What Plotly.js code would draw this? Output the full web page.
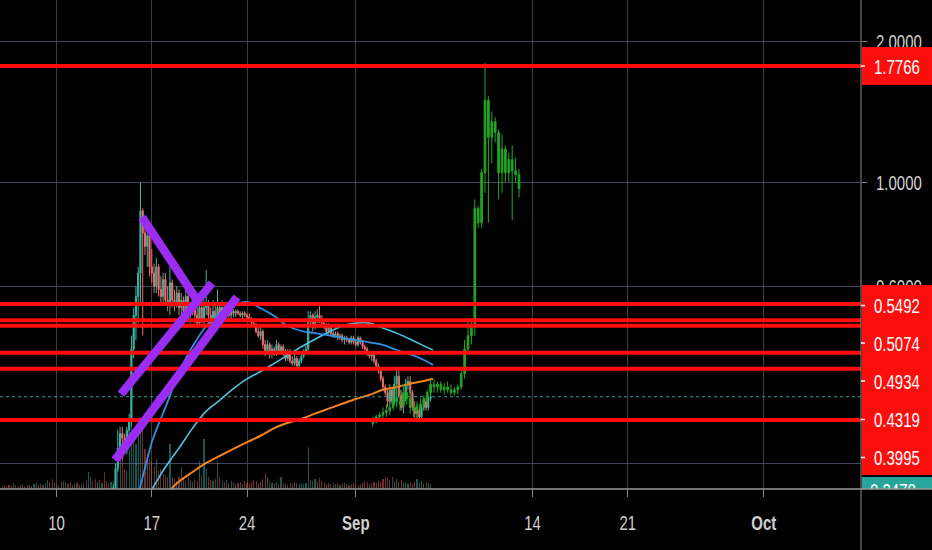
<!DOCTYPE html>
<html><head><meta charset="utf-8">
<script src="https://cdn.plot.ly/plotly-3.0.1.min.js"></script>
<style>html,body{margin:0;padding:0;background:#000;}#chart{width:932px;height:550px;}</style>
</head><body><div id="chart"></div>
<script>
// ---------- DATA ----------
const candleStart = '2020-08-14 00:00';   // 4h candles
const openP  = [.205,.212,.222,.244,.270,.290,.284,.268,.295,.310,.440,.520,.570,.640,.870,.780,.730,.770,.660,.640,.600,.660,.590,.570,.620,.560,.550,.610,.560,.550,.580,.540,.560,.530,.570,.520,.530,.560,.520,.500,.540,.510,.540,.550,.520,.500,.530,.510,.540,.520,.540,.520,.535,.520,.530,.525,.530,.525,.520,.525,.520,.515,.510,.500,.495,.480,.470,.480,.450,.435,.450,.430,.440,.430,.450,.435,.445,.430,.420,.435,.415,.410,.420,.405,.415,.425,.435,.440,.510,.520,.490,.515,.520,.510,.500,.490,.480,.490,.475,.470,.475,.465,.470,.460,.465,.460,.455,.465,.455,.450,.465,.455,.445,.440,.430,.425,.430,.415,.405,.395,.380,.365,.355,.340,.360,.340,.370,.385,.350,.330,.345,.370,.375,.355,.330,.320,.325,.315,.330,.340,.330,.345];
const highP  = [.215,.226,.250,.295,.300,.300,.290,.300,.320,.470,.540,.600,.660,1.000,.880,.820,.790,.780,.720,.670,.690,.670,.630,.640,.640,.600,.660,.620,.590,.600,.590,.580,.570,.600,.580,.550,.580,.570,.540,.560,.550,.560,.650,.560,.540,.560,.550,.590,.550,.560,.550,.550,.540,.540,.535,.535,.535,.530,.530,.530,.525,.525,.515,.510,.500,.490,.490,.485,.460,.460,.455,.450,.445,.460,.455,.450,.450,.440,.440,.440,.425,.430,.425,.420,.430,.440,.450,.530,.530,.525,.530,.535,.545,.520,.510,.500,.500,.495,.480,.480,.480,.475,.475,.470,.470,.465,.470,.470,.460,.470,.468,.460,.450,.445,.435,.435,.432,.420,.410,.400,.385,.370,.360,.370,.365,.385,.400,.395,.360,.355,.380,.385,.385,.360,.340,.335,.330,.335,.345,.345,.350,.360];
const lowP   = [.200,.208,.218,.240,.262,.255,.262,.262,.285,.300,.420,.460,.500,.550,.470,.700,.660,.630,.610,.580,.580,.570,.550,.550,.550,.530,.520,.540,.530,.540,.520,.520,.510,.520,.510,.500,.520,.500,.490,.490,.500,.495,.520,.500,.490,.490,.500,.500,.500,.510,.510,.505,.510,.510,.515,.515,.520,.515,.510,.515,.510,.505,.490,.490,.475,.465,.460,.440,.425,.430,.420,.420,.425,.425,.430,.430,.425,.415,.415,.410,.405,.405,.400,.400,.410,.420,.430,.435,.490,.480,.485,.500,.500,.490,.485,.475,.475,.470,.465,.465,.460,.460,.455,.450,.455,.450,.450,.450,.445,.445,.450,.440,.435,.425,.420,.415,.410,.400,.390,.375,.360,.350,.330,.335,.335,.335,.350,.345,.325,.320,.340,.360,.350,.325,.310,.310,.310,.310,.325,.325,.325,.340];
const closeP = [.212,.222,.244,.270,.290,.284,.268,.295,.310,.440,.520,.570,.640,.870,.780,.730,.770,.660,.640,.600,.660,.590,.570,.620,.560,.550,.610,.560,.550,.580,.540,.560,.530,.570,.520,.530,.560,.520,.500,.540,.510,.540,.550,.520,.500,.530,.510,.540,.520,.540,.520,.535,.520,.530,.525,.530,.525,.520,.525,.520,.515,.510,.500,.495,.480,.470,.480,.450,.435,.450,.430,.440,.430,.450,.435,.445,.430,.420,.435,.415,.410,.420,.405,.415,.425,.435,.440,.510,.520,.490,.515,.520,.510,.500,.490,.480,.490,.475,.470,.475,.465,.470,.460,.465,.460,.455,.465,.455,.450,.465,.455,.445,.440,.430,.425,.430,.415,.405,.395,.380,.365,.355,.340,.360,.340,.370,.385,.350,.330,.345,.370,.375,.355,.330,.320,.325,.315,.330,.340,.330,.345,.3478];

const greenStart = '2020-09-02 06:00';   // 6h candles
const gOpen  = [.305,.310,.315,.318,.322,.325,.330,.345,.340,.335,.355,.345,.330,.325,.330,.335,.345,.355,.370,.365,.370,.360,.365,.360,.355,.360,.365,.390,.440,.470,.490,.880,.820,1.050,1.500,1.250,1.350,1.280,1.050,1.180,1.050,1.120,1.060,1.040];
const gHigh  = [.315,.318,.322,.330,.335,.340,.360,.370,.360,.370,.375,.360,.345,.340,.345,.350,.360,.380,.380,.375,.375,.372,.375,.370,.365,.370,.400,.460,.510,.510,.920,.890,1.070,1.800,1.530,1.420,1.380,1.300,1.270,1.200,1.160,1.200,1.130,1.070];
const gLow   = [.300,.305,.310,.312,.315,.318,.325,.330,.325,.330,.335,.320,.315,.310,.320,.325,.335,.350,.355,.355,.355,.352,.355,.350,.350,.352,.360,.380,.430,.450,.470,.800,.800,.950,.820,1.100,1.220,.920,.950,1.000,1.000,.830,1.000,.930];
const gClose = [.310,.315,.318,.322,.325,.330,.345,.340,.335,.355,.345,.330,.325,.330,.335,.345,.355,.370,.365,.370,.360,.365,.360,.355,.360,.365,.390,.440,.470,.490,.880,.820,1.050,1.500,1.250,1.350,1.280,1.050,1.180,1.050,1.120,1.060,1.040,.970];

const volStart = '2020-08-06 00:00';     // 4h volume bars
const volume = [3,4,3,4,3,6,4,3,4,5,3,4,4,3,5,6,4,5,4,6,9,7,10,6,5,4,7,8,6,5,7,4,5,6,4,5,6,9,17,12,8,10,7,9,6,17,8,6,
 7,8,10,25,51,30,20,18,40,69,50,45,60,72,65,40,35,30,28,22,30,18,20,15,14,12,45,12,10,8,12,22,10,8,12,9,7,10,8,28,
 14,50,20,12,9,8,10,28,12,8,7,9,6,8,7,5,6,7,5,8,6,5,7,9,8,6,7,10,16,12,8,6,5,7,5,12,6,5,4,6,5,7,6,5,6,5,6,42,9,8,
 10,7,11,8,6,5,6,5,6,5,6,4,5,6,5,4,5,6,5,4,5,6,8,7,5,6,7,6,8,7,10,12,11,9,12,8,10,7,9,6,7,5,6,5,7,10,6,8,5,7,6,5];
const earlyVolDir = 'ddudd uddud duddu ddudu uddud dudud duudd udduu ddudu ddd'.replace(/ /g,'');

const blueDates = ['2020-08-16 00:00','2020-08-16 12:00','2020-08-17 00:00','2020-08-17 12:00','2020-08-18 00:00','2020-08-18 12:00','2020-08-19 00:00','2020-08-19 12:00','2020-08-20 00:00','2020-08-21 00:00','2020-08-22 00:00','2020-08-23 00:00','2020-08-24 00:00','2020-08-25 00:00','2020-08-26 00:00','2020-08-27 00:00','2020-08-28 00:00','2020-08-29 00:00','2020-08-30 00:00','2020-08-31 00:00','2020-09-01 00:00','2020-09-02 00:00','2020-09-03 00:00','2020-09-04 00:00','2020-09-05 00:00','2020-09-06 00:00','2020-09-06 16:00'];
const blueMA = [.215,.245,.278,.304,.330,.360,.393,.420,.446,.493,.525,.547,.555,.538,.518,.493,.481,.476,.471,.465,.460,.455,.449,.438,.429,.417,.407];
const cyanDates = ['2020-08-16 20:00','2020-08-17 12:00','2020-08-18 00:00','2020-08-18 12:00','2020-08-19 00:00','2020-08-20 00:00','2020-08-21 00:00','2020-08-22 00:00','2020-08-23 00:00','2020-08-24 00:00','2020-08-25 00:00','2020-08-26 00:00','2020-08-27 00:00','2020-08-28 00:00','2020-08-29 00:00','2020-08-30 00:00','2020-08-31 00:00','2020-09-01 00:00','2020-09-02 00:00','2020-09-03 00:00','2020-09-04 00:00','2020-09-05 00:00','2020-09-06 00:00','2020-09-06 16:00'];
const cyanMA = [.216,.233,.246,.258,.270,.298,.324,.342,.362,.380,.394,.410,.427,.445,.462,.478,.493,.500,.500,.488,.476,.462,.447,.438];
const orangeDates = ['2020-08-18 00:00','2020-08-18 12:00','2020-08-19 00:00','2020-08-20 00:00','2020-08-21 00:00','2020-08-22 00:00','2020-08-23 00:00','2020-08-24 00:00','2020-08-25 00:00','2020-08-26 00:00','2020-08-27 00:00','2020-08-28 00:00','2020-08-29 00:00','2020-08-30 00:00','2020-08-31 00:00','2020-09-01 00:00','2020-09-02 00:00','2020-09-03 00:00','2020-09-04 00:00','2020-09-05 00:00','2020-09-06 00:00','2020-09-06 16:00'];
const orangeMA = [.214,.222,.229,.240,.251,.260,.269,.278,.287,.298,.306,.312,.320,.328,.336,.344,.351,.360,.365,.371,.376,.380];

const levels = [1.7766, 0.5492, 0.5074, 0.4934, 0.4319, 0.3995, 0.3101];
const trendDates  = [['2020-08-16 06:42','2020-08-20 07:46'],['2020-08-14 17:38','2020-08-21 10:13'],['2020-08-14 07:03','2020-08-23 06:21']];
const trendPrices = [[0.8435,0.5602],[0.3524,0.6092],[0.2545,0.5685]];

const xTickDates = ['2020-08-10','2020-08-17','2020-08-24','2020-09-01','2020-09-14','2020-09-21','2020-10-01'];
const xTickText  = ['10','17','24','<b>Sep</b>','14','21','<b>Oct</b>'];
const yTickVals  = [0.25, 0.6, 1, 2];
const yTickText  = ['', '0.6000', '1.0000', '2.0000'];
const xRange = ['2020-08-05 20:07','2020-10-08 03:32'];

// ---------- BUILD ----------
function times(start, n, h){
  const t0 = Date.parse(start.replace(' ','T')+':00Z'); const out=[];
  for(let i=0;i<n;i++){ const d=new Date(t0+i*h*3600000); out.push(d.toISOString().slice(0,16).replace('T',' ')); }
  return out;
}
const FONT = '"Liberation Sans",Arial,sans-serif';
const FS = 15, STRETCH = 1.4;
const UP='#3fb5a5', DN='#ec6f6a', GR='#22a722', RED='#ff0d0d';
const cTimes = times(candleStart, closeP.length, 4);
const gTimes = times(greenStart, gClose.length, 6);
const vTimes = times(volStart, volume.length, 4);
const nEarly = volume.length - closeP.length;
const vColors = volume.map((v,i)=>{
  const up = i<nEarly ? earlyVolDir[i]==='u' : closeP[i-nEarly]>=openP[i-nEarly];
  return up ? 'rgba(38,166,154,0.55)' : 'rgba(239,83,80,0.5)';
});
const lastPrice = closeP[closeP.length-1];

const traces = [
  {type:'bar', x:vTimes, y:volume, xaxis:'x', yaxis:'y', marker:{color:vColors, line:{width:0}}, width:7200000, hoverinfo:'skip'},
  {type:'candlestick', x:cTimes, open:openP, high:highP, low:lowP, close:closeP, xaxis:'x', yaxis:'y2',
    increasing:{line:{color:UP,width:1}, fillcolor:UP}, decreasing:{line:{color:DN,width:1}, fillcolor:DN}, hoverinfo:'skip'},
  {type:'scatter', mode:'lines', x:orangeDates, y:orangeMA, xaxis:'x', yaxis:'y2', line:{color:'#f5841f', width:2, shape:'spline'}, hoverinfo:'skip'},
  {type:'scatter', mode:'lines', x:cyanDates, y:cyanMA, xaxis:'x', yaxis:'y2', line:{color:'#4cc6e0', width:1.6, shape:'spline'}, hoverinfo:'skip'},
  {type:'scatter', mode:'lines', x:blueDates, y:blueMA, xaxis:'x', yaxis:'y2', line:{color:'#2f8fe0', width:1.8, shape:'spline'}, hoverinfo:'skip'},
  {type:'scatter', mode:'lines', x:xRange, y:[lastPrice,lastPrice], xaxis:'x', yaxis:'y2', line:{color:'#26a69a', width:1.2, dash:'dot'}, hoverinfo:'skip'},
  {type:'candlestick', x:gTimes, open:gOpen, high:gHigh, low:gLow, close:gClose, xaxis:'x3', yaxis:'y2',
    increasing:{line:{color:GR,width:1}, fillcolor:GR}, decreasing:{line:{color:GR,width:1}, fillcolor:GR}, hoverinfo:'skip'}
];
levels.forEach(v=>traces.push({type:'scatter', mode:'lines', x:xRange, y:[v,v], xaxis:'x3', yaxis:'y2', line:{color:RED, width:4}, hoverinfo:'skip'}));
trendDates.forEach((d,i)=>traces.push({type:'scatter', mode:'lines', x:d, y:trendPrices[i], xaxis:'x3', yaxis:'y2', line:{color:'#9a2cf4', width:8.5}, hoverinfo:'skip'}));
traces.push({type:'scatter', mode:'text', x:[9], y:[-3], xaxis:'x2', yaxis:'y3', text:[lastPrice.toFixed(4)], textposition:'middle right',
  textfont:{family:FONT, size:FS, color:'#ffffff'}, cliponaxis:true, hoverinfo:'skip'});

const W=932, H=550, PB=489, AX=861;
const px = v=>v/W, py = v=>(PB-v)/PB;
const shapes = [
  {type:'rect', xref:'paper', yref:'paper', x0:px(862), x1:1, y0:py(85), y1:py(47), fillcolor:RED, line:{width:0}, layer:'above'},
  {type:'rect', xref:'paper', yref:'paper', x0:px(862), x1:1, y0:py(475), y1:py(285), fillcolor:RED, line:{width:0}, layer:'above'},
  {type:'rect', xref:'paper', yref:'paper', x0:px(862), x1:1, y0:0, y1:py(477), fillcolor:'#26a69a', line:{width:0}, layer:'below'},
  {type:'line', xref:'paper', yref:'paper', x0:px(AX), x1:px(AX), y0:py(H), y1:1, line:{color:'#8c8c8c', width:1}, layer:'above'},
  {type:'line', xref:'paper', yref:'paper', x0:0, x1:1, y0:0, y1:0, line:{color:'#9a9a9a', width:1.5}, layer:'above'}
];
const labelY = [66, 305.5, 343, 381, 419.5, 457.5];
const annotations = [];
labelY.forEach((yy,i)=>{
  annotations.push({xref:'paper', yref:'paper', x:px(872), y:py(yy), xanchor:'left', yanchor:'middle', showarrow:false,
    text:levels[i].toFixed(4), font:{family:FONT, size:FS, color:'#ffffff'}});
  shapes.push({type:'line', xref:'paper', yref:'paper', x0:px(861), x1:px(865), y0:py(yy), y1:py(yy), line:{color:'#ffffff', width:1.5}, layer:'above'});
});

const layout = {
  width:W, height:H, margin:{l:0, r:0, t:0, b:H-PB, pad:0},
  paper_bgcolor:'#000000', plot_bgcolor:'rgba(0,0,0,0)', showlegend:false, dragmode:false, bargap:0,
  xaxis:{type:'date', domain:[0, px(AX)], range:xRange, anchor:'y', rangeslider:{visible:false},
    tickvals:xTickDates, ticktext:xTickText, showgrid:true, gridcolor:'#3d3d3d', gridwidth:1,
    ticks:'outside', ticklen:7, tickcolor:'#888888', showline:false, zeroline:false,
    tickfont:{family:FONT, size:FS, color:'#d0d0d0'}, ticklabelstandoff:13},
  xaxis3:{type:'date', overlaying:'x', range:xRange, anchor:'y2', visible:false, rangeslider:{visible:false}},
  yaxis:{range:[0, PB], visible:false, showgrid:false, zeroline:false, fixedrange:true},
  yaxis2:{type:'log', overlaying:'y', side:'right', anchor:'x', range:[Math.log10(0.22074), Math.log10(2.4592)],
    tickvals:yTickVals, ticktext:yTickText, showgrid:true, gridcolor:'#41445a', gridwidth:1,
    ticks:'outside', ticklen:5, tickcolor:'#888888', showline:false, zeroline:false,
    tickfont:{family:FONT, size:FS, color:'#d0d0d0'}, ticklabelstandoff:6},
  xaxis2:{domain:[px(AX),1], range:[0, W-AX], anchor:'y3', visible:false, fixedrange:true},
  yaxis3:{domain:[0,1], range:[0, PB], anchor:'x2', visible:false, fixedrange:true},
  shapes:shapes, annotations:annotations
};
Plotly.newPlot('chart', traces, layout, {staticPlot:true, displayModeBar:false}).then(gd=>{
  // tall, narrow chart-style lettering: stretch every label vertically about its own centre
  gd.querySelectorAll('.xtick text, .y2tick text, text.annotation-text, .textpoint text').forEach(t=>{
    const b = t.getBBox(); const cy = b.y + b.height/2;
    const tr = t.getAttribute('transform') || '';
    t.setAttribute('transform', `${tr} translate(0,${cy}) scale(1,${STRETCH}) translate(0,${-cy})`);
  });
});
</script></body></html>
